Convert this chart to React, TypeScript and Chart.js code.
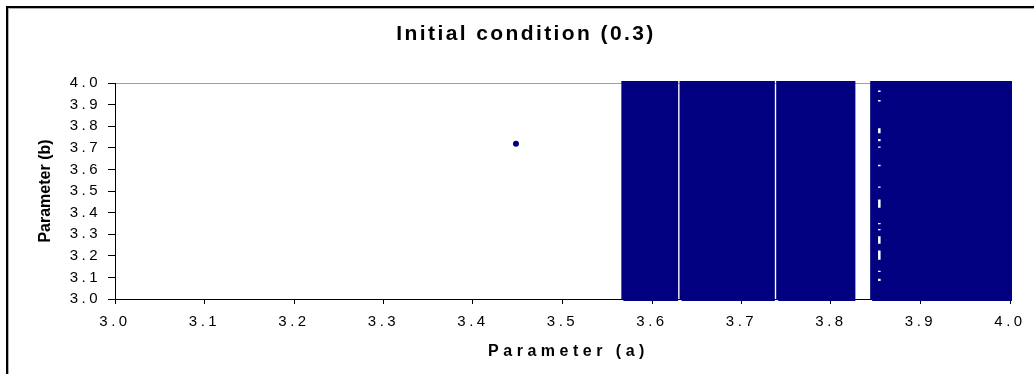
import { useEffect, useRef } from 'react';
import { Chart, registerables } from 'chart.js';

Chart.register(...registerables);

// ---- text ----
const chartTitle = 'Initial condition (0.3)';
const xAxisTitle = 'Parameter (a)';
const yAxisTitle = 'Parameter (b)';
const xTickLabels = ['3.0', '3.1', '3.2', '3.3', '3.4', '3.5', '3.6', '3.7', '3.8', '3.9', '4.0'];
const yTickLabels = ['3.0', '3.1', '3.2', '3.3', '3.4', '3.5', '3.6', '3.7', '3.8', '3.9', '4.0'];

// ---- data ----
const axisMin = 3.0;
const axisMax = 4.0;
// isolated point
const isolatedA = [3.448];
const isolatedB = [3.719];
// dense bands of points (a ranges), covering b from 3.0 to 4.0
const bandStartA = [3.568, 3.633, 3.741, 3.846];
const bandEndA = [3.627, 3.735, 3.825, 4.0];
const bandLowB = 3.0;
const bandHighB = 4.0;
// small empty spots inside the last band (at a ~ 3.854)
const gapA = 3.854;
const gapLowB = [3.958, 3.914, 3.767, 3.730, 3.700, 3.615, 3.515, 3.422, 3.346, 3.318, 3.256, 3.182, 3.125, 3.083];
const gapHighB = [3.965, 3.921, 3.790, 3.741, 3.706, 3.621, 3.521, 3.461, 3.352, 3.324, 3.290, 3.224, 3.131, 3.094];

const NAVY = '#000080';
const FONT = '"Liberation Sans", Arial, sans-serif';

const textPlugin = {
  id: 'excelText',
  beforeDraw(chart: any) {
    const ctx = chart.ctx;
    ctx.save();
    ctx.fillStyle = '#ffffff';
    ctx.fillRect(0, 0, chart.width, chart.height);
    ctx.restore();
    ctx.letterSpacing = '3.5px';
  },
  afterDraw(chart: any) {
    const ctx = chart.ctx;
    const area = chart.chartArea;
    ctx.save();
    // outer frame (left + top)
    ctx.fillStyle = '#000';
    ctx.fillRect(6, 6, 2, chart.height);
    ctx.fillRect(6, 6, chart.width, 2);
    ctx.fillStyle = '#b0b0b0';
    ctx.fillRect(8, 8, 1, chart.height);
    ctx.fillRect(8, 8, chart.width, 1);

    ctx.fillStyle = '#000';
    // chart title
    ctx.font = `bold 21px ${FONT}`;
    (ctx as any).letterSpacing = '2.4px';
    ctx.textAlign = 'center';
    ctx.textBaseline = 'alphabetic';
    ctx.fillText(chartTitle, 526, 40);

    // x axis title
    ctx.font = `bold 16px ${FONT}`;
    (ctx as any).letterSpacing = '4.5px';
    ctx.fillText(xAxisTitle, (area.left + area.right) / 2 + 6, 356);

    // y axis title
    (ctx as any).letterSpacing = '0px';
    ctx.translate(50, (area.top + area.bottom) / 2);
    ctx.rotate(-Math.PI / 2);
    ctx.fillText(yAxisTitle, 0, 0);
    ctx.restore();
  },
};

export default function App() {
  const ref = useRef<HTMLCanvasElement | null>(null);

  useEffect(() => {
    if (!ref.current) return;

    const bandSets = bandStartA.map((s, i) => ({
      type: 'line',
      label: 'band' + i,
      data: [
        { x: s, y: bandLowB },
        { x: s, y: bandHighB },
        { x: bandEndA[i], y: bandHighB },
        { x: bandEndA[i], y: bandLowB },
        { x: s, y: bandLowB },
      ],
      pointRadius: 0,
      borderColor: NAVY,
      backgroundColor: NAVY,
      borderWidth: 4,
      borderJoinStyle: 'miter',
      tension: 0,
      fill: 'shape',
      clip: 4,
      order: 3,
    }));

    const gapData: any[] = [];
    gapLowB.forEach((lo, i) => {
      gapData.push({ x: gapA, y: lo });
      gapData.push({ x: gapA, y: gapHighB[i] });
      gapData.push({ x: gapA, y: null });
    });

    const chart = new Chart(ref.current, {
      type: 'scatter',
      data: {
        datasets: [
          {
            label: 'point',
            data: isolatedA.map((a, i) => ({ x: a, y: isolatedB[i] })),
            pointRadius: 3,
            pointStyle: 'circle',
            backgroundColor: NAVY,
            borderColor: NAVY,
            borderWidth: 0,
            order: 0,
          },
          {
            type: 'line',
            label: 'gaps',
            data: gapData,
            spanGaps: false,
            pointRadius: 0,
            fill: false,
            borderColor: '#ffffff',
            borderWidth: 2.5,
            order: 1,
          },
          ...bandSets,
        ] as any,
      },
      plugins: [textPlugin],
      options: {
        animation: false,
        responsive: false,
        devicePixelRatio: 1,
        events: [],
        layout: { padding: { left: 0, top: 83, right: 24, bottom: 0 } },
        plugins: {
          legend: { display: false },
          tooltip: { enabled: false },
          title: { display: false },
        },
        scales: {
          x: {
            type: 'linear',
            min: axisMin,
            max: axisMax,
            afterFit(scale: any) {
              scale.height = 75;
            },
            ticks: {
              stepSize: 0.1,
              autoSkip: false,
              maxRotation: 0,
              padding: 9,
              color: '#000',
              font: { family: FONT, size: 15 },
              callback: (v: any) => xTickLabels[Math.round((Number(v) - axisMin) * 10)],
            },
            grid: {
              drawOnChartArea: false,
              tickLength: 5,
              tickColor: '#000',
              color: '#000',
            },
            border: { display: true, color: '#000', width: 1 },
          },
          y: {
            type: 'linear',
            min: axisMin,
            max: axisMax,
            afterFit(scale: any) {
              scale.width = 115;
            },
            ticks: {
              stepSize: 0.1,
              autoSkip: false,
              padding: 7,
              color: '#000',
              font: { family: FONT, size: 15 },
              callback: (v: any) => yTickLabels[Math.round((Number(v) - axisMin) * 10)],
            },
            grid: {
              drawOnChartArea: true,
              tickLength: 7,
              tickColor: '#000',
              color: (c: any) =>
                c.tick && Math.abs(c.tick.value - axisMax) < 1e-6 ? '#a0a0a0' : 'rgba(0,0,0,0)',
            },
            border: { display: true, color: '#000', width: 1 },
          },
        },
      } as any,
    });

    return () => chart.destroy();
  }, []);

  return (
    <div style={{ position: 'fixed', left: 0, top: 0, width: 1034, height: 374, background: '#fff' }}>
      <canvas ref={ref} width={1034} height={374} style={{ display: 'block', width: 1034, height: 374 }} />
    </div>
  );
}
